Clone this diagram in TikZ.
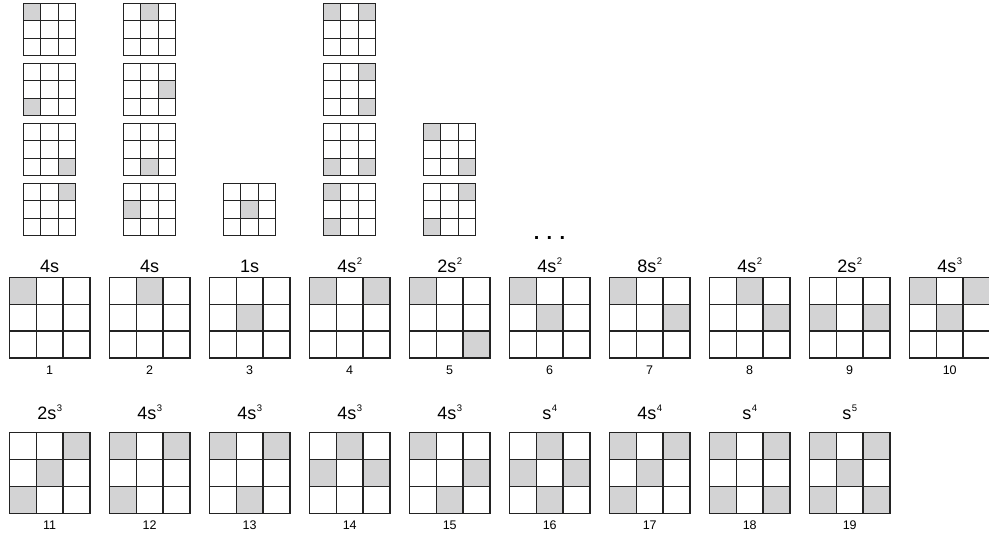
\documentclass[tikz,border=0pt]{standalone}
\usepackage{fontspec}
\setmainfont{Liberation Sans}
\definecolor{shade}{RGB}{211,211,212}
\definecolor{ink}{RGB}{35,35,35}
\newcommand\psup[1]{\kern0.6pt\raisebox{8pt}{\fontsize{9.5}{10}\selectfont #1}}
\newcommand\ninegrid[5]{%
  \foreach \r/\c in {#5}{\fill[cellfill] ({#2+\c*#4},{#3+\r*#4}) rectangle ++(#4,#4);}
  \foreach \k in {1,2}{%
    \draw[gridline] ({#2+\k*#4},#3) -- ++(0,{3*#4});
    \draw[gridline] (#2,{#3+\k*#4}) -- ++({3*#4},0);}
  \node[gridframe, minimum size={3*#4pt}, anchor=north west] (#1) at (#2,#3) {};
}
\tikzset{
  cellfill/.style={fill=shade},
  gridline/.style={draw=ink},
  gridframe/.style={draw=ink, inner sep=0pt, outer sep=0pt},
  lbl/.style={font=\fontsize{18}{21}\selectfont, inner sep=0pt, anchor=base},
  num/.style={font=\fontsize{12.5}{14}\selectfont, inner sep=0pt, anchor=base},
  dots/.style={font=\bfseries\fontsize{20}{22}\selectfont, inner sep=0pt, anchor=base}
}
\begin{document}
\begin{tikzpicture}[x=1pt,y=-1pt]
\useasboundingbox (0,0) rectangle (989,535);
% small grids
\begin{scope}[line width=1.0pt]
\ninegrid{s11}{23.3}{3.3}{17.47}{0/0}
\ninegrid{s12}{23.3}{63.3}{17.47}{2/0}
\ninegrid{s13}{23.3}{123.3}{17.47}{2/2}
\ninegrid{s14}{23.3}{183.3}{17.47}{0/2}
\ninegrid{s21}{123.3}{3.3}{17.47}{0/1}
\ninegrid{s22}{123.3}{63.3}{17.47}{1/2}
\ninegrid{s23}{123.3}{123.3}{17.47}{2/1}
\ninegrid{s24}{123.3}{183.3}{17.47}{1/0}
\ninegrid{s34}{223.3}{183.3}{17.47}{1/1}
\ninegrid{s41}{323.3}{3.3}{17.47}{0/0,0/2}
\ninegrid{s42}{323.3}{63.3}{17.47}{0/2,2/2}
\ninegrid{s43}{323.3}{123.3}{17.47}{2/0,2/2}
\ninegrid{s44}{323.3}{183.3}{17.47}{0/0,2/0}
\ninegrid{s53}{423.3}{123.3}{17.47}{0/0,2/2}
\ninegrid{s54}{423.3}{183.3}{17.47}{0/2,2/0}
\end{scope}
\node[dots] (ell) at (549.5,239.5) {. . .};
% large grids, middle row
\begin{scope}[line width=1.25pt]
\ninegrid{g1}{9.3}{277.3}{26.9}{0/0}
\ninegrid{g2}{109.3}{277.3}{26.9}{0/1}
\ninegrid{g3}{209.3}{277.3}{26.9}{1/1}
\ninegrid{g4}{309.3}{277.3}{26.9}{0/0,0/2}
\ninegrid{g5}{409.3}{277.3}{26.9}{0/0,2/2}
\ninegrid{g6}{509.3}{277.3}{26.9}{0/0,1/1}
\ninegrid{g7}{609.3}{277.3}{26.9}{0/0,1/2}
\ninegrid{g8}{709.3}{277.3}{26.9}{0/1,1/2}
\ninegrid{g9}{809.3}{277.3}{26.9}{1/0,1/2}
\ninegrid{g10}{909.3}{277.3}{26.9}{0/0,0/2,1/1}
% bottom row
\ninegrid{g11}{9.3}{432.7}{26.9}{0/2,1/1,2/0}
\ninegrid{g12}{109.3}{432.7}{26.9}{0/0,0/2,2/0}
\ninegrid{g13}{209.3}{432.7}{26.9}{0/0,0/2,2/1}
\ninegrid{g14}{309.3}{432.7}{26.9}{0/1,1/0,1/2}
\ninegrid{g15}{409.3}{432.7}{26.9}{0/0,1/2,2/1}
\ninegrid{g16}{509.3}{432.7}{26.9}{0/1,1/0,1/2,2/1}
\ninegrid{g17}{609.3}{432.7}{26.9}{0/0,0/2,1/1,2/0}
\ninegrid{g18}{709.3}{432.7}{26.9}{0/0,0/2,2/0,2/2}
\ninegrid{g19}{809.3}{432.7}{26.9}{0/0,0/2,1/1,2/0,2/2}
\end{scope}
% labels middle row
\node[lbl] (t1) at (49.7,272) {4s};
\node[lbl] (t2) at (149.7,272) {4s};
\node[lbl] (t3) at (249.7,272) {1s};
\node[lbl] (t4) at (349.7,272) {4s\psup{2}};
\node[lbl] (t5) at (449.7,272) {2s\psup{2}};
\node[lbl] (t6) at (549.7,272) {4s\psup{2}};
\node[lbl] (t7) at (649.7,272) {8s\psup{2}};
\node[lbl] (t8) at (749.7,272) {4s\psup{2}};
\node[lbl] (t9) at (849.7,272) {2s\psup{2}};
\node[lbl] (t10) at (949.7,272) {4s\psup{3}};
\foreach \i in {1,...,10}{\node[num] (n\i) at ({49.7+100*(\i-1)},374.5) {\i};}
% labels bottom row
\node[lbl] (t11) at (49.7,419.5) {2s\psup{3}};
\node[lbl] (t12) at (149.7,419.5) {4s\psup{3}};
\node[lbl] (t13) at (249.7,419.5) {4s\psup{3}};
\node[lbl] (t14) at (349.7,419.5) {4s\psup{3}};
\node[lbl] (t15) at (449.7,419.5) {4s\psup{3}};
\node[lbl] (t16) at (549.7,419.5) {s\psup{4}};
\node[lbl] (t17) at (649.7,419.5) {4s\psup{4}};
\node[lbl] (t18) at (749.7,419.5) {s\psup{4}};
\node[lbl] (t19) at (849.7,419.5) {s\psup{5}};
\foreach \i in {11,...,19}{\node[num] (n\i) at ({49.7+100*(\i-11)},529.5) {\i};}
\end{tikzpicture}
\end{document}
